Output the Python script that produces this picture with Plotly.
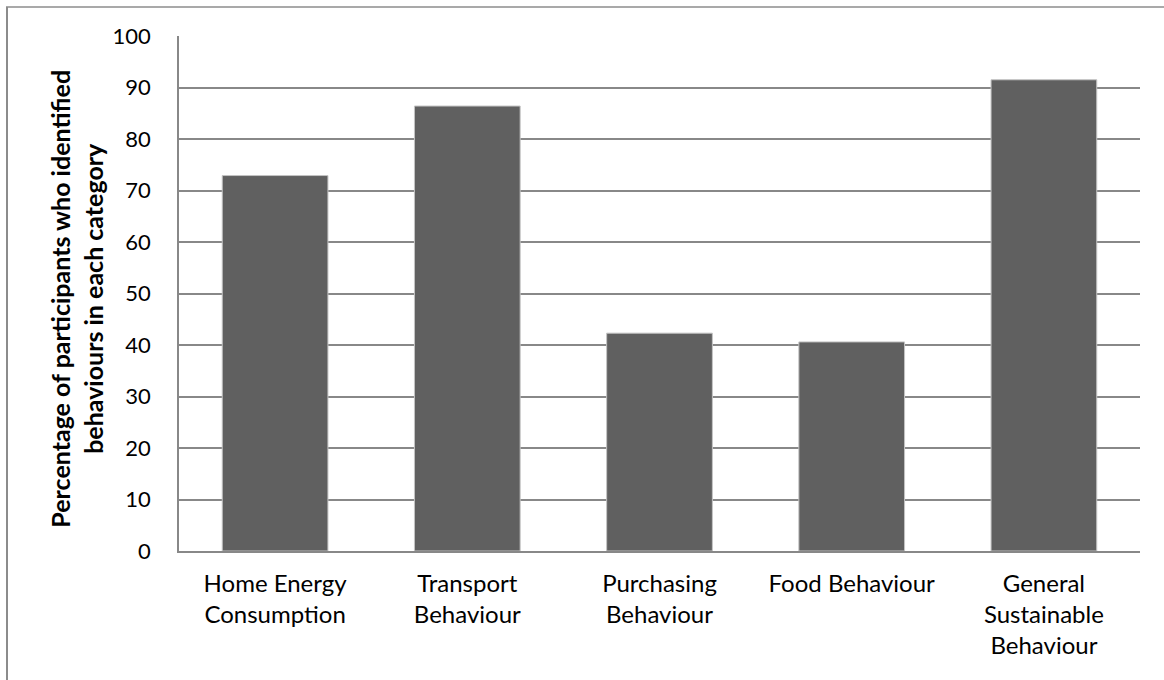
import plotly.graph_objects as go

categories = [
    "Home Energy<br>Consumption",
    "Transport<br>Behaviour",
    "Purchasing<br>Behaviour",
    "Food Behaviour",
    "General<br>Sustainable<br>Behaviour",
]
percentages = [72.9, 86.4, 42.3, 40.6, 91.5]
y_ticks = [0, 10, 20, 30, 40, 50, 60, 70, 80, 90, 100]

W, H = 1164, 680
ML, MR, MT, MB = 179, 24, 36, 129
plot_w = W - ML - MR
plot_h = H - MT - MB

FONT = "Lato"
GRID = "#888888"

fig = go.Figure(
    go.Bar(
        x=categories,
        y=percentages,
        marker=dict(color="#606060", line=dict(color="#c4c4c4", width=1)),
        hoverinfo="x+y",
    )
)


def px_x(px):
    return (px - ML) / plot_w


def px_y(py):
    return 1 - (py - MT) / plot_h


# frame lines along the top and left edges of the chart
fig.add_shape(type="line", xref="paper", yref="paper",
              x0=px_x(6), x1=px_x(W + 2), y0=px_y(7), y1=px_y(7),
              line=dict(color="#8c8c8c", width=1.5))
fig.add_shape(type="line", xref="paper", yref="paper",
              x0=px_x(7), x1=px_x(7), y0=px_y(7), y1=px_y(H + 2),
              line=dict(color="#8c8c8c", width=2))

fig.add_annotation(
    text="<b>Percentage of participants who identified<br>behaviours in each category</b>",
    xref="paper", yref="paper", x=px_x(77), y=0.49,
    xanchor="center", yanchor="middle", textangle=-90, showarrow=False,
    font=dict(family=FONT, size=25, color="#000000"),
)

fig.update_layout(
    width=W, height=H,
    margin=dict(l=ML, r=MR, t=MT, b=MB),
    paper_bgcolor="white", plot_bgcolor="white",
    bargap=0.45,
    showlegend=False,
    font=dict(family=FONT, size=22, color="#000000"),
    xaxis=dict(
        showgrid=False, showline=True, linecolor=GRID, linewidth=1.5,
        ticks="", tickfont=dict(family=FONT, size=24), ticklabelstandoff=10,
    ),
    yaxis=dict(
        range=[0, 100], tickvals=y_ticks, showgrid=True, gridcolor=GRID,
        gridwidth=1.5, showline=True, linecolor=GRID, linewidth=1.5,
        ticks="", zeroline=False, tickfont=dict(family=FONT, size=22),
        ticklabelstandoff=22,
    ),
)

fig.write_html("out.html")
